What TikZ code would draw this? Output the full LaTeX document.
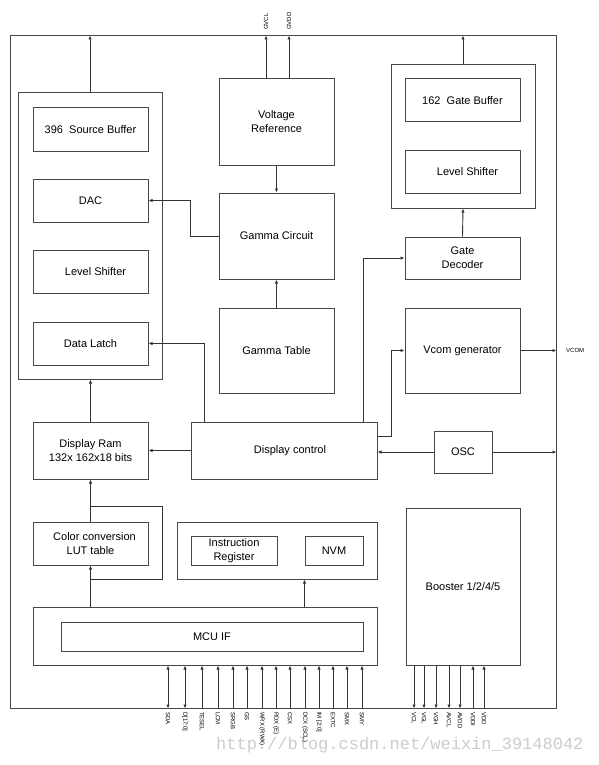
\documentclass[tikz,border=0pt]{standalone}
\usepackage{fontspec}
\setmainfont{Liberation Sans}
\newfontfamily\wmfont{Liberation Mono}
\usetikzlibrary{arrows.meta}

\begin{document}
\begin{tikzpicture}
	[x=1pt,y=-1pt,
	blk/.style={rectangle,draw=black!72,line width=1pt,inner sep=0pt,align=center,font=\fontsize{11}{14}\selectfont},
	grp/.style={rectangle,draw=black!72,line width=1pt,inner sep=0pt},
	wire/.style={draw=black!80,line width=0.9pt},
	arr/.style={wire,-{Latex[length=4pt,width=3.4pt]}},
	biarr/.style={wire,{Latex[length=4pt,width=3.4pt]}-{Latex[length=4pt,width=3.4pt]}},
	pin/.style={font=\fontsize{6}{7}\selectfont,inner sep=0pt},]
	\useasboundingbox (0,0) rectangle (598,765);
	\node[font=\wmfont\fontsize{17}{17}\selectfont,text=gray!40,anchor=west,inner sep=0pt] (wmark) at (216,745) {http://blog.csdn.net/weixin\_39148042};
	\node[grp,minimum width=546pt,minimum height=672pt] (chip) at (283,372) {};
	\node[grp,minimum width=144pt,minimum height=286pt] (srcgrp) at (90,236) {};
	\node[blk,minimum width=115pt,minimum height=43pt] (srcbuf) at (90.5,129.5) {396~ Source Buffer};
	\node[blk,minimum width=115pt,minimum height=43pt] (dac) at (90.5,200.5) {DAC};
	\node[blk,minimum width=115pt,minimum height=43pt] (lss) at (90.5,271.5) {\hspace{10pt}Level Shifter};
	\node[blk,minimum width=115pt,minimum height=43pt] (latch) at (90.5,343.5) {Data Latch};
	\node[blk,minimum width=115pt,minimum height=86pt] (vref) at (276.5,122) {Voltage\\Reference};
	\node[blk,minimum width=115pt,minimum height=86pt] (gcirc) at (276.5,236) {Gamma Circuit};
	\node[blk,minimum width=115pt,minimum height=85pt] (gtab) at (276.5,350.5) {Gamma Table};
	\node[grp,minimum width=144pt,minimum height=143pt] (gategrp) at (463,136.5) {};
	\node[blk,minimum width=115pt,minimum height=43pt] (gbuf) at (462.5,100.5) {162~ Gate Buffer};
	\node[blk,minimum width=115pt,minimum height=43pt] (lsg) at (462.5,171.5) {\hspace{10pt}Level Shifter};
	\node[blk,minimum width=115pt,minimum height=42pt] (gdec) at (462.5,258) {Gate\\Decoder};
	\node[blk,minimum width=115pt,minimum height=85pt] (vcom) at (462.5,350.5) {Vcom generator};
	\node[blk,minimum width=115pt,minimum height=57pt] (ram) at (90.5,450.5) {Display Ram\\132x 162x18 bits};
	\node[blk,minimum width=186pt,minimum height=57pt] (dctl) at (284,450.5) {\hspace{12pt}Display control};
	\node[blk,minimum width=58pt,minimum height=42pt] (osc) at (463,452) {OSC};
	\node[blk,minimum width=115pt,minimum height=43pt] (lut) at (90.5,543.5) {\hspace{8pt}Color conversion\\LUT table};
	\node[grp,minimum width=200pt,minimum height=57pt] (instr) at (277,550.5) {};
	\node[blk,minimum width=86pt,minimum height=29pt] (ireg) at (234,550.5) {Instruction\\Register};
	\node[blk,minimum width=58pt,minimum height=29pt] (nvm) at (334,550.5) {NVM};
	\node[grp,minimum width=344pt,minimum height=58pt] (mcu) at (205,636) {};
	\node[blk,minimum width=302pt,minimum height=29pt] (mcuif) at (212,636.5) {MCU IF};
	\node[blk,minimum width=114pt,minimum height=157pt] (boost) at (463,586.5) {Booster 1/2/4/5};
	\coordinate (gvcl) at ([xshift=-10.5pt]vref.north);
	\coordinate (gvdd) at ([xshift=12.5pt]vref.north);
	\draw[arr] (srcgrp.north) -- (srcgrp.north |- chip.north);
	\draw[arr] (gvcl) -- (gvcl |- chip.north);
	\draw[arr] (gvdd) -- (gvdd |- chip.north);
	\draw[arr] (gategrp.north) -- (gategrp.north |- chip.north);
	\draw[arr] (vref.south) -- (gcirc.north);
	\draw[arr] (gtab.north) -- (gcirc.south);
	\draw[arr] (gcirc.west) -- ++(-28,0) |- (dac.east);
	\draw[arr] ([xshift=-80pt]dctl.north) |- (latch.east);
	\draw[arr] ([xshift=79pt]dctl.north) |- (gdec.west);
	\draw[arr] ([yshift=14.5pt]dctl.east) -- ++(14,0) |- (vcom.west);
	\draw[arr] (gdec.north) -- (gategrp.south);
	\draw[arr] (vcom.east) -- (vcom.east -| chip.east);
	\draw[arr] (ram.north) -- (ram.north |- srcgrp.south);
	\draw[arr] (dctl.west) -- (ram.east);
	\draw[arr] (osc.west) -- (osc.west -| dctl.east);
	\draw[arr] (osc.east) -- (osc.east -| chip.east);
	\draw[arr] (lut.north) -- (ram.south);
	\draw[wire] ([yshift=15pt]lut.north) -| ([xshift=14pt,yshift=-14pt]lut.south east) -- ([yshift=-14pt]lut.south);
	\draw[arr] (mcu.north -| lut.south) -- (lut.south);
	\draw[arr] (mcu.north -| nvm.west) -- (instr.south -| nvm.west);
	\node[pin,rotate=90,anchor=west] (lgvcl) at (gvcl |- 0,30) {GVCL};
	\node[pin,rotate=90,anchor=west] (lgvdd) at (gvdd |- 0,30) {GVDD};
	\node[pin,anchor=west] (lvcom) at (566,350.5) {VCOM};
	\foreach \x/\t [count=\i] in {168/SDA,185/{D[17:0]},202/TESEL,218/LCM,233/SRGB,247/GS,262/{WRX (RWX)},276/{RDX (E)},290/CSX,305/{DCX (SCL)},319/{IM [2:0]},333/EXTC,347/SMX,362/SMY}
	{
		\ifnum\i<3
			\draw[biarr] (chip.south -| \x,0) -- (mcu.south -| \x,0);
		\else
			\draw[arr] (chip.south -| \x,0) -- (mcu.south -| \x,0);
		\fi
		\node[pin,rotate=-90,anchor=west] (pin\i) at (\x,712) {\t};
	}
	\foreach \x/\t [count=\i] in {414/VCL,424/VGL,436/VGH,449/AVCL,460/AVDD,473/VDDI,484/VDD}
	{
		\ifnum\i<6
			\draw[arr] (boost.south -| \x,0) -- (chip.south -| \x,0);
		\else
			\draw[arr] (chip.south -| \x,0) -- (boost.south -| \x,0);
		\fi
		\node[pin,rotate=-90,anchor=west] (pwr\i) at (\x,712) {\t};
	}
\end{tikzpicture}
\end{document}
